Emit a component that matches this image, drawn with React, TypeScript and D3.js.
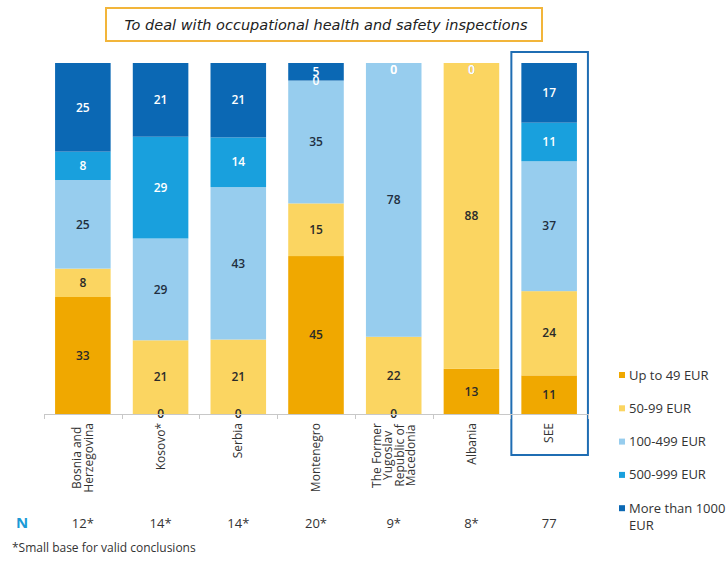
import { useRef, useEffect } from "react";
import * as d3 from "d3";

const categories = ["BIH", "KOS", "SRB", "MNE", "MKD", "ALB", "SEE"];
const categoryLines = [
  ["Bosnia and", "Herzegovina"],
  ["Kosovo*"],
  ["Serbia"],
  ["Montenegro"],
  ["The Former", "Yugoslav", "Republic of", "Macedonia"],
  ["Albania"],
  ["SEE"],
];
const baseN = ["12*", "14*", "14*", "20*", "9*", "8*", "77"];

const seriesNames = ["Up to 49 EUR", "50-99 EUR", "100-499 EUR", "500-999 EUR", "More than 1000 EUR"];
const upTo49 = [33, 0, 0, 45, 0, 13, 11];
const eur50to99 = [8, 21, 21, 15, 22, 88, 24];
const eur100to499 = [25, 29, 43, 35, 78, 0, 37];
const eur500to999 = [8, 29, 14, 0, 0, 0, 11];
const over1000 = [25, 21, 21, 5, 0, 0, 17];

const colors = ["#f0a800", "#fbd561", "#97cdee", "#19a0dd", "#0b68b4"];
const labelColors = ["#2a2a2a", "#2a2a2a", "#1f2f40", "#ffffff", "#ffffff"];

export default function App() {
  const chartRef = useRef<SVGSVGElement>(null);

  useEffect(() => {
    if (!chartRef.current) return;
    const svg = d3.select(chartRef.current);
    svg.selectAll("*").remove();

    const font = "'Open Sans', sans-serif";
    const allSeries = [upTo49, eur50to99, eur100to499, eur500to999, over1000];
    const keys = seriesNames;

    const rows = categories.map((c, i) => {
      const r: any = { cat: c };
      keys.forEach((k, j) => (r[k] = allSeries[j][i]));
      return r;
    });

    // 100% stacked, like the original
    const stack = d3.stack<any>().keys(keys).offset(d3.stackOffsetExpand);
    const stacked = stack(rows);

    const x = d3
      .scaleBand()
      .domain(categories)
      .range([44, 588])
      .paddingInner(0.285)
      .paddingOuter(0.1425);

    const y = d3.scaleLinear().domain([0, 1]).range([414, 63]);

    // title box
    svg
      .append("rect")
      .attr("x", 106)
      .attr("y", 8)
      .attr("width", 436)
      .attr("height", 33)
      .attr("fill", "#fff")
      .attr("stroke", "#f2b53a")
      .attr("stroke-width", 2);
    svg
      .append("text")
      .attr("x", 326)
      .attr("y", 25)
      .attr("dy", "0.35em")
      .attr("text-anchor", "middle")
      .attr("font-family", "'DejaVu Sans', sans-serif")
      .attr("font-style", "italic")
      .attr("font-size", 14.5)
      .attr("fill", "#222")
      .text("To deal with occupational health and safety inspections");

    // bars
    const layers = svg
      .selectAll("g.layer")
      .data(stacked)
      .enter()
      .append("g")
      .attr("class", "layer")
      .attr("fill", (_d, i) => colors[i]);

    layers
      .selectAll("rect")
      .data((d) => d)
      .enter()
      .append("rect")
      .attr("x", (d: any) => x(d.data.cat)!)
      .attr("width", x.bandwidth())
      .attr("y", (d) => y(d[1]))
      .attr("height", (d) => y(d[0]) - y(d[1]));

    // value labels
    stacked.forEach((layer, i) => {
      svg
        .append("g")
        .selectAll("text")
        .data(layer)
        .enter()
        .append("text")
        .attr("x", (d: any) => x(d.data.cat)! + x.bandwidth() / 2)
        .attr("y", (d) => Math.max(y((d[0] + d[1]) / 2), 70))
        .attr("dy", "0.35em")
        .attr("text-anchor", "middle")
        .attr("font-family", font)
        .attr("font-weight", 600)
        .attr("font-size", 12)
        .attr("fill", labelColors[i])
        .text((d: any) => d.data[layer.key]);
    });

    // SEE highlight box
    const seeX = x("SEE")!;
    svg
      .append("rect")
      .attr("x", seeX - 10)
      .attr("y", 52)
      .attr("width", x.bandwidth() + 21)
      .attr("height", 403)
      .attr("fill", "none")
      .attr("stroke", "#1f6db3")
      .attr("stroke-width", 2);

    // x axis line with ticks between categories
    const axis = svg.append("g").attr("stroke", "#c8c8c8");
    axis
      .append("line")
      .attr("x1", 44)
      .attr("x2", 588)
      .attr("y1", 414.5)
      .attr("y2", 414.5);
    const step = x.step();
    d3.range(categories.length + 1).forEach((i) => {
      const tx = Math.round(44 + i * step) + 0.5;
      axis
        .append("line")
        .attr("x1", tx)
        .attr("x2", tx)
        .attr("y1", 414)
        .attr("y2", 419);
    });

    // category labels (rotated)
    categories.forEach((c, i) => {
      const lines = categoryLines[i];
      const cx = x(c)! + x.bandwidth() / 2;
      const g = svg
        .append("g")
        .attr("transform", `translate(${cx},423) rotate(-90)`);
      const lh = 11.5;
      const texts = g
        .selectAll("text")
        .data(lines)
        .enter()
        .append("text")
        .attr("y", (_d, k) => (k - (lines.length - 1) / 2) * lh)
        .attr("dy", "0.35em")
        .attr("text-anchor", "middle")
        .attr("font-family", font)
        .attr("font-size", 12)
        .attr("fill", "#333")
        .text((d) => d);
      let maxW = 0;
      texts.each(function () {
        maxW = Math.max(maxW, (this as SVGTextElement).getComputedTextLength());
      });
      texts.attr("x", -maxW / 2);
    });

    // N row
    svg
      .append("text")
      .attr("x", 16)
      .attr("y", 523)
      .attr("dy", "0.35em")
      .attr("font-family", font)
      .attr("font-weight", 700)
      .attr("font-size", 15)
      .attr("fill", "#1b9ad6")
      .text("N");
    svg
      .append("g")
      .selectAll("text")
      .data(baseN)
      .enter()
      .append("text")
      .attr("x", (_d, i) => x(categories[i])! + x.bandwidth() / 2)
      .attr("y", 523)
      .attr("dy", "0.35em")
      .attr("text-anchor", "middle")
      .attr("font-family", font)
      .attr("font-size", 13)
      .attr("fill", "#333")
      .text((d) => d);

    svg
      .append("text")
      .attr("x", 12)
      .attr("y", 548)
      .attr("dy", "0.35em")
      .attr("font-family", font)
      .attr("font-size", 12)
      .attr("fill", "#333")
      .text("*Small base for valid conclusions");

    // legend
    const legend = svg.append("g").attr("transform", "translate(619,375)");
    seriesNames.forEach((name, i) => {
      const ly = i * 33.3;
      legend
        .append("rect")
        .attr("x", 0)
        .attr("y", ly - 3)
        .attr("width", 6)
        .attr("height", 6)
        .attr("fill", colors[i]);
      const lines = i === 4 ? ["More than 1000", "EUR"] : [name];
      lines.forEach((ln, k) => {
        legend
          .append("text")
          .attr("x", 10)
          .attr("y", ly + k * 17)
          .attr("dy", "0.35em")
          .attr("font-family", font)
          .attr("font-size", 13)
          .attr("fill", "#333")
          .text(ln);
      });
    });
  }, []);

  return (
    <svg
      ref={chartRef}
      width={728}
      height={563}
      style={{ position: "absolute", left: 0, top: 0, background: "#fff" }}
    />
  );
}
